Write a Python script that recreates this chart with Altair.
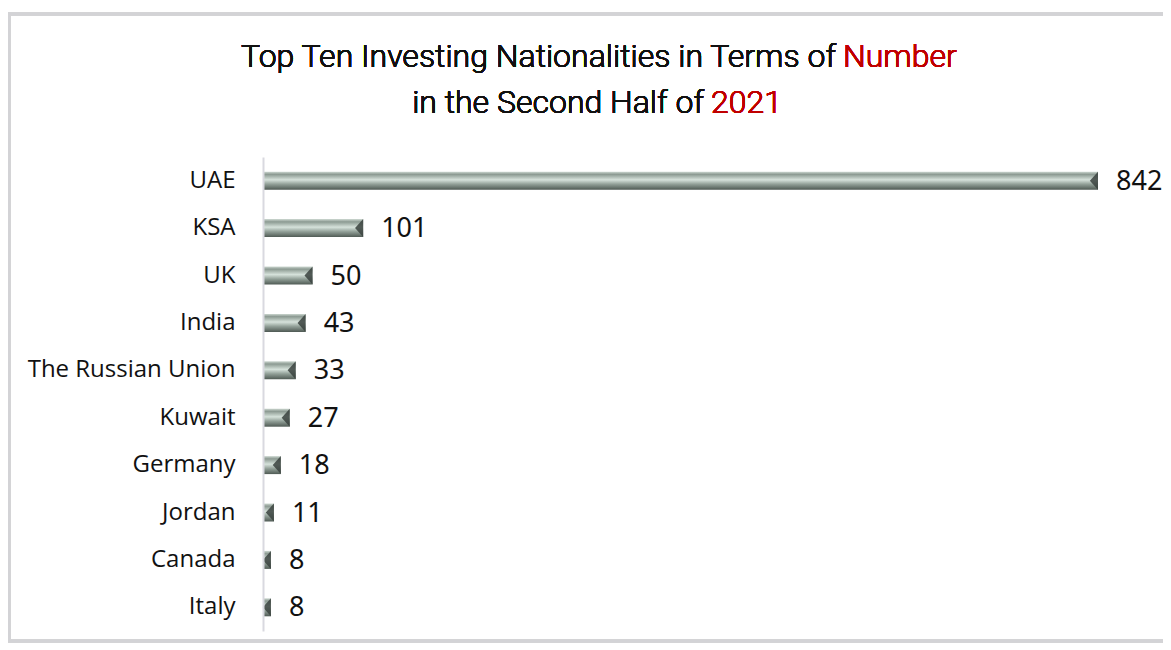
import altair as alt
import pandas as pd

countries = ["UAE", "KSA", "UK", "India", "The Russian Union", "Kuwait",
             "Germany", "Jordan", "Canada", "Italy"]
values = [842, 101, 50, 43, 33, 27, 18, 11, 8, 8]

df = pd.DataFrame({"country": countries, "value": values})

W, H = 835, 474

x = alt.X("value:Q", scale=alt.Scale(domain=[0, 842], nice=False, zero=True), axis=None)
y = alt.Y("country:N", sort=countries, scale=alt.Scale(paddingInner=0.6, paddingOuter=0.3),
          axis=alt.Axis(title=None, ticks=False, domain=True, domainColor="#d9d9e0",
                        domainWidth=2, labelFont="Open Sans", labelFontSize=24, labelLimit=400,
                        labelColor="#111111", labelPadding=28, zindex=1))

grad = {"gradient": "linear", "x1": 0, "y1": 0, "x2": 0, "y2": 1,
        "stops": [{"offset": 0, "color": "#cdd8d1"},
                  {"offset": 0.15, "color": "#8c9a92"},
                  {"offset": 0.45, "color": "#d6e2db"},
                  {"offset": 0.7, "color": "#909e96"},
                  {"offset": 1, "color": "#4f5a54"}]}

frame = alt.Chart(df).mark_rect(filled=False, stroke="#d3d3d6", strokeWidth=3).encode(
    x=alt.value(-254), x2=alt.value(920), y=alt.value(-143), y2=alt.value(484))

bars = alt.Chart(df).mark_bar(color=grad, size=18).encode(x=x, y=y)

ends = alt.Chart(df).mark_point(shape="M0,-1L0,1L-0.9,0Z", size=324, filled=True,
                                color="#3a423e", opacity=0.85).encode(x=x, y=y)

labels = alt.Chart(df).mark_text(align="left", baseline="middle", dx=18, dy=1,
                                 font="Noto Sans", fontSize=27, color="#111111").encode(
    x=x, y=y, text="value:Q")

tfont = "Roboto"
tsize = 32
tw = 300
t1a = alt.Chart(df).mark_text(text="Top Ten Investing Nationalities in Terms of", align="right",
                              baseline="alphabetic", font=tfont, fontSize=tsize, fontWeight=tw,
                              color="#111111").encode(
    x=alt.value(573), y=alt.value(-90))
t1b = alt.Chart(df).mark_text(text="Number", align="left", baseline="alphabetic",
                              font=tfont, fontSize=tsize, fontWeight=tw, color="#c00000").encode(
    x=alt.value(580), y=alt.value(-90))
t2a = alt.Chart(df).mark_text(text="in the Second Half of", align="right", baseline="alphabetic",
                              font=tfont, fontSize=tsize, fontWeight=tw, color="#111111").encode(
    x=alt.value(441), y=alt.value(-44))
t2b = alt.Chart(df).mark_text(text="2021", align="left", baseline="alphabetic",
                              font=tfont, fontSize=tsize, fontWeight=tw, color="#c00000").encode(
    x=alt.value(448), y=alt.value(-44))

chart = alt.layer(frame, bars, ends, labels, t1a, t1b, t2a, t2b).properties(
    width=W, height=H,
    autosize=alt.AutoSizeParams(type="none"),
    padding={"left": 255, "top": 149, "right": 65, "bottom": 16},
    background="white",
).configure_view(stroke=None)

chart.save("out.html", embed_options={"renderer": "svg", "actions": False})
